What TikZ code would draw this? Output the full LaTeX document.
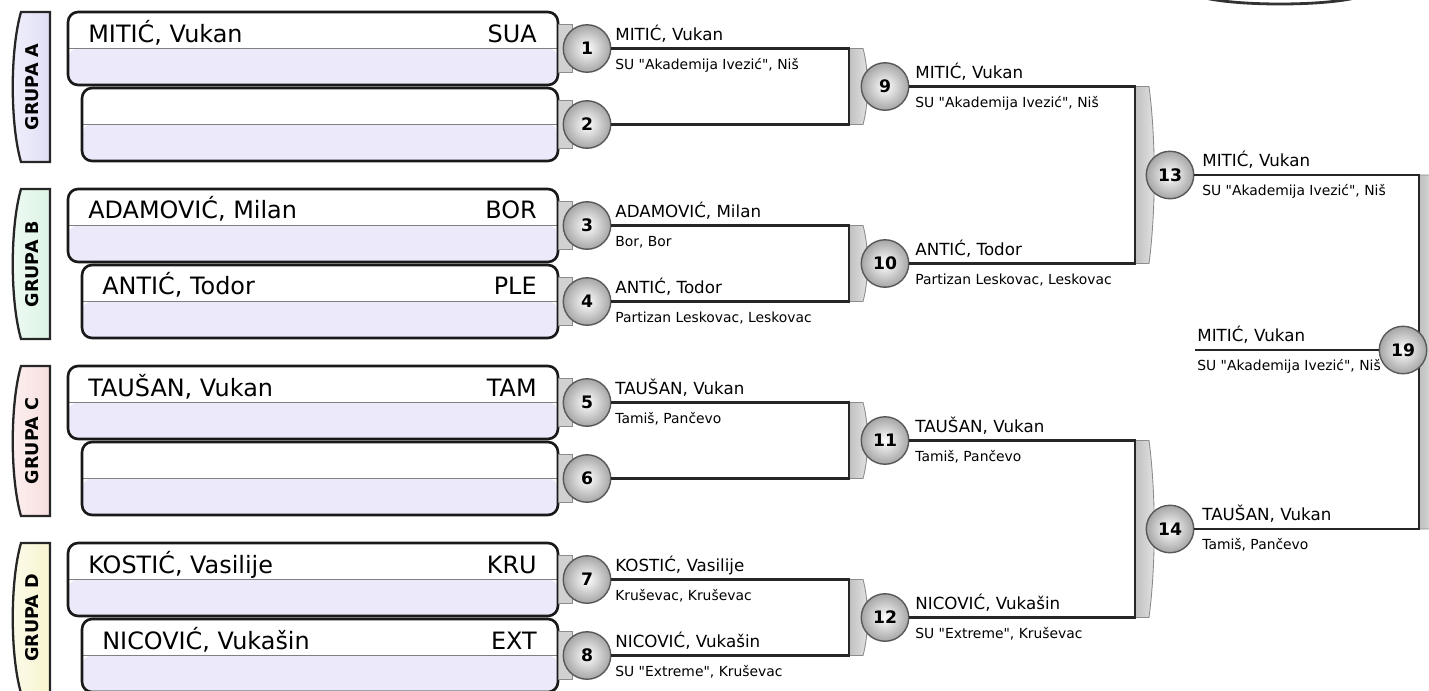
\documentclass[tikz,border=0pt]{standalone}
\usepackage{fontspec}
\setmainfont{DejaVu Sans}[Ligatures=TeXOff]
\usetikzlibrary{positioning}

\definecolor{grpA}{RGB}{224,222,246}
\definecolor{grpB}{RGB}{220,244,228}
\definecolor{grpC}{RGB}{248,222,222}
\definecolor{grpD}{RGB}{248,245,208}
\definecolor{boxlow}{RGB}{236,234,250}

\tikzset{
	tab/.style={draw=black!85, line width=1.3pt},
	tabtext/.style={rotate=90, inner sep=0pt, font=\fontsize{10}{12}\selectfont\bfseries},
	pbox/.style={draw=black!90, line width=1.5pt, rounded corners=0.2cm, fill=white,
		inner sep=0pt, minimum height=1.46cm,
		path picture={
			\fill[boxlow] (path picture bounding box.west) rectangle (path picture bounding box.south east);
			\draw[black!50, line width=0.6pt] (path picture bounding box.west) -- (path picture bounding box.east);
		}},
	pname/.style={anchor=base west, inner sep=0pt, font=\fontsize{13.6}{16}\selectfont},
	pcode/.style={anchor=base east, inner sep=0pt, font=\fontsize{13.6}{16}\selectfont},
	stub/.style={fill=black!18, draw=black!45, line width=0.5pt},
	brk/.style={left color=black!25, right color=black!10, draw=black!45, line width=0.5pt},
	ball/.style={circle, draw=black!65, line width=0.8pt, minimum size=0.95cm, inner sep=0pt,
		inner color=white, outer color=black!35, font=\fontsize{9.8}{10}\selectfont\bfseries},
	wire/.style={draw=black!85, line width=1.3pt},
	wname/.style={anchor=base west, inner sep=0pt, font=\fontsize{9.5}{11}\selectfont},
	wclub/.style={anchor=base west, inner sep=0pt, font=\fontsize{7.9}{9}\selectfont},
}

\begin{document}
\begin{tikzpicture}[x=0.02cm, y=-0.02cm]
	\clip (0,0) rectangle (1429,690);

	% group tabs
	\draw[tab, left color=grpA!45, right color=grpA] (50,12) -- (21,12) .. controls (10,50) and (10,124) .. (21,162) -- (50,162) -- cycle;
	\draw[tab, left color=grpB!45, right color=grpB] (50,189) -- (21,189) .. controls (10,227) and (10,301) .. (21,339) -- (50,339) -- cycle;
	\draw[tab, left color=grpC!45, right color=grpC] (50,366) -- (21,366) .. controls (10,404) and (10,478) .. (21,516) -- (50,516) -- cycle;
	\draw[tab, left color=grpD!45, right color=grpD] (50,543) -- (21,543) .. controls (10,581) and (10,655) .. (21,693) -- (50,693) -- cycle;
	\node[tabtext] (gA) at (32,87) {GRUPA A};
	\node[tabtext] (gB) at (32,264) {GRUPA B};
	\node[tabtext] (gC) at (32,441) {GRUPA C};
	\node[tabtext] (gD) at (32,618) {GRUPA D};

	% player boxes
	\node[pbox, minimum width=9.8cm] (p1) at (313,48.5) {};
	\node[pbox, minimum width=9.52cm] (p2) at (320,124.5) {};
	\node[pbox, minimum width=9.8cm] (p3) at (313,225.5) {};
	\node[pbox, minimum width=9.52cm] (p4) at (320,301.5) {};
	\node[pbox, minimum width=9.8cm] (p5) at (313,402.5) {};
	\node[pbox, minimum width=9.52cm] (p6) at (320,478.5) {};
	\node[pbox, minimum width=9.8cm] (p7) at (313,579.5) {};
	\node[pbox, minimum width=9.52cm] (p8) at (320,655.5) {};

	\node[pname] (n1) at (88,42) {MITIĆ, Vukan};
	\node[pcode] (c1) at (537,42) {SUA};
	\node[pname] (n3) at (88,218) {ADAMOVIĆ, Milan};
	\node[pcode] (c3) at (537,218) {BOR};
	\node[pname] (n4) at (102,294) {ANTIĆ, Todor};
	\node[pcode] (c4) at (537,294) {PLE};
	\node[pname] (n5) at (88,396) {TAUŠAN, Vukan};
	\node[pcode] (c5) at (537,396) {TAM};
	\node[pname] (n7) at (88,573) {KOSTIĆ, Vasilije};
	\node[pcode] (c7) at (537,573) {KRU};
	\node[pname] (n8) at (102,649) {NICOVIĆ, Vukašin};
	\node[pcode] (c8) at (537,649) {EXT};

	% stubs and brackets behind the balls
	\draw[stub] (558,24.5) rectangle (572,72.5);
	\draw[stub] (558,100.5) rectangle (572,148.5);
	\draw[stub] (558,201.5) rectangle (572,249.5);
	\draw[stub] (558,277.5) rectangle (572,325.5);
	\draw[stub] (558,378.5) rectangle (572,426.5);
	\draw[stub] (558,454.5) rectangle (572,502.5);
	\draw[stub] (558,555.5) rectangle (572,603.5);
	\draw[stub] (558,631.5) rectangle (572,679.5);

	\draw[brk] (849,48.5) -- (863,48.5) .. controls (869,70) and (869,103) .. (863,124.5) -- (849,124.5) -- cycle;
	\draw[brk] (849,225.5) -- (863,225.5) .. controls (869,247) and (869,280) .. (863,301.5) -- (849,301.5) -- cycle;
	\draw[brk] (849,402.5) -- (863,402.5) .. controls (869,424) and (869,457) .. (863,478.5) -- (849,478.5) -- cycle;
	\draw[brk] (849,579.5) -- (863,579.5) .. controls (869,601) and (869,634) .. (863,655.5) -- (849,655.5) -- cycle;
	\draw[brk] (1135,86.5) -- (1149,86.5) .. controls (1156,140) and (1156,210) .. (1149,263.5) -- (1135,263.5) -- cycle;
	\draw[brk] (1135,440.5) -- (1149,440.5) .. controls (1156,494) and (1156,564) .. (1149,617.5) -- (1135,617.5) -- cycle;
	\draw[brk] (1419,175) -- (1433,175) .. controls (1440,280) and (1440,424) .. (1433,529) -- (1419,529) -- cycle;

	% balls
	\node[ball] (m1) at (587,48.5) {1};
	\node[ball] (m2) at (587,124.5) {2};
	\node[ball] (m3) at (587,225.5) {3};
	\node[ball] (m4) at (587,301.5) {4};
	\node[ball] (m5) at (587,402.5) {5};
	\node[ball] (m6) at (587,478.5) {6};
	\node[ball] (m7) at (587,579.5) {7};
	\node[ball] (m8) at (587,655.5) {8};
	\node[ball] (m9) at (885,86.5) {9};
	\node[ball] (m10) at (885,263.5) {10};
	\node[ball] (m11) at (885,440.5) {11};
	\node[ball] (m12) at (885,617.5) {12};
	\node[ball] (m13) at (1170,175) {13};
	\node[ball] (m14) at (1170,529) {14};

	\coordinate (j9) at (849,0);
	\coordinate (j13) at (1135,0);
	\coordinate (j19) at (1419,0);
	\coordinate (f19) at (1195,350);

	% connectors
	\draw[wire] (m1) -- (m1 -| j9) -- (m2 -| j9) -- (m2);
	\draw[wire] (m3) -- (m3 -| j9) -- (m4 -| j9) -- (m4);
	\draw[wire] (m5) -- (m5 -| j9) -- (m6 -| j9) -- (m6);
	\draw[wire] (m7) -- (m7 -| j9) -- (m8 -| j9) -- (m8);
	\draw[wire] (m9) -- (m9 -| j13) -- (m10 -| j13) -- (m10);
	\draw[wire] (m11) -- (m11 -| j13) -- (m12 -| j13) -- (m12);
	\draw[wire] (m13) -- (m13 -| j19) -- (m14 -| j19) -- (m14);

	% winners
	\node[wname] (w1) at (615,40.5) {MITIĆ, Vukan};
	\node[wclub] (k1) at (615,69.5) {SU "Akademija Ivezić", Niš};
	\node[wname] (w3) at (615,217.5) {ADAMOVIĆ, Milan};
	\node[wclub] (k3) at (615,246.5) {Bor, Bor};
	\node[wname] (w4) at (615,293.5) {ANTIĆ, Todor};
	\node[wclub] (k4) at (615,322.5) {Partizan Leskovac, Leskovac};
	\node[wname] (w5) at (615,394.5) {TAUŠAN, Vukan};
	\node[wclub] (k5) at (615,423.5) {Tamiš, Pančevo};
	\node[wname] (w7) at (615,571.5) {KOSTIĆ, Vasilije};
	\node[wclub] (k7) at (615,600.5) {Kruševac, Kruševac};
	\node[wname] (w8) at (615,647.5) {NICOVIĆ, Vukašin};
	\node[wclub] (k8) at (615,676.5) {SU "Extreme", Kruševac};

	\node[wname] (w9) at (915,78.5) {MITIĆ, Vukan};
	\node[wclub] (k9) at (915,107.5) {SU "Akademija Ivezić", Niš};
	\node[wname] (w10) at (915,255.5) {ANTIĆ, Todor};
	\node[wclub] (k10) at (915,284.5) {Partizan Leskovac, Leskovac};
	\node[wname] (w11) at (915,432.5) {TAUŠAN, Vukan};
	\node[wclub] (k11) at (915,461.5) {Tamiš, Pančevo};
	\node[wname] (w12) at (915,609.5) {NICOVIĆ, Vukašin};
	\node[wclub] (k12) at (915,638.5) {SU "Extreme", Kruševac};

	\node[wname] (w13) at (1202,166) {MITIĆ, Vukan};
	\node[wclub] (k13) at (1202,195) {SU "Akademija Ivezić", Niš};
	\node[wname] (w14) at (1202,520) {TAUŠAN, Vukan};
	\node[wclub] (k14) at (1202,549) {Tamiš, Pančevo};
	\node[wname] (w19) at (1197,341) {MITIĆ, Vukan};
	\node[wclub] (k19) at (1197,370) {SU "Akademija Ivezić", Niš};

	% final ball sits over its text
	\node[ball] (m19) at (1403,350) {19};
	\draw[wire] (f19) -- (m19);

	% edge of the trophy above
	\draw[line width=1.6pt, black!80] (1205,-2) .. controls (1240,6) and (1320,6) .. (1355,-2);

\end{tikzpicture}
\end{document}
